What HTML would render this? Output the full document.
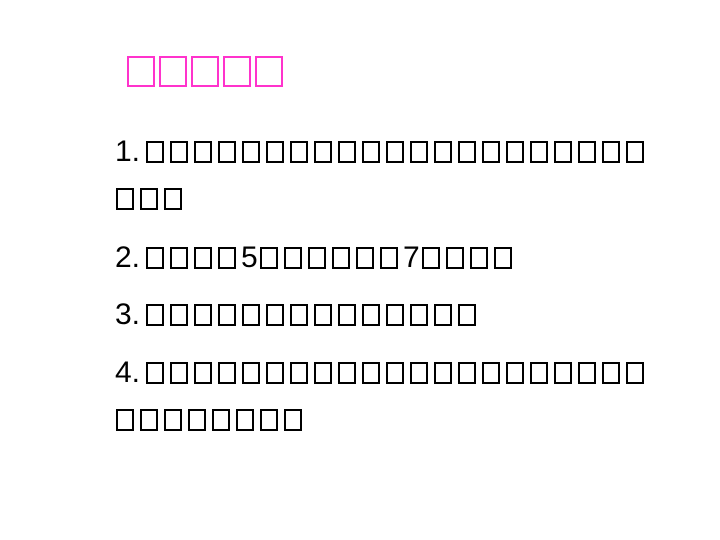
<!DOCTYPE html>
<html><head><meta charset="utf-8"><style>
body{margin:0;width:720px;height:540px;background:#fff;position:relative;overflow:hidden;font-family:"Liberation Sans",sans-serif;}
.line{position:absolute;left:115px;height:24px;display:flex;align-items:center;}
.b{display:inline-block;width:14px;height:18px;border:2px solid #000;margin-right:5px;margin-left:1px;box-sizing:content-box;}
.n{display:inline-block;font-size:30px;line-height:24px;color:#000;}
.t{position:absolute;left:127px;top:56px;display:flex;}
.t .b{width:24px;height:27px;border-color:#ff33cc;margin:0 4px 0 0;}
</style></head><body>
<div class="t"><span class="b"></span><span class="b"></span><span class="b"></span><span class="b"></span><span class="b"></span></div>
<div id="c"></div>
<script>
const lines=[
 {y:140,items:["1.",21]},
 {y:187,items:[3]},
 {y:246,items:["2.",4,"5",6,"7",4]},
 {y:303,items:["3.",14]},
 {y:361,items:["4.",21]},
 {y:408,items:[8]}
];
const c=document.getElementById('c');
lines.forEach((l,i)=>{
 const d=document.createElement('div');
 d.className='line';d.style.top=l.y+'px';
 
 
 l.items.forEach(it=>{
  if(typeof it==='string'){const s=document.createElement('span');s.className='n';s.textContent=it;
   s.style.width=(it.length===2?30:18)+'px';d.appendChild(s);}
  else for(let k=0;k<it;k++){const s=document.createElement('span');s.className='b';d.appendChild(s);}
 });
 c.appendChild(d);
});
</script>
</body></html>
